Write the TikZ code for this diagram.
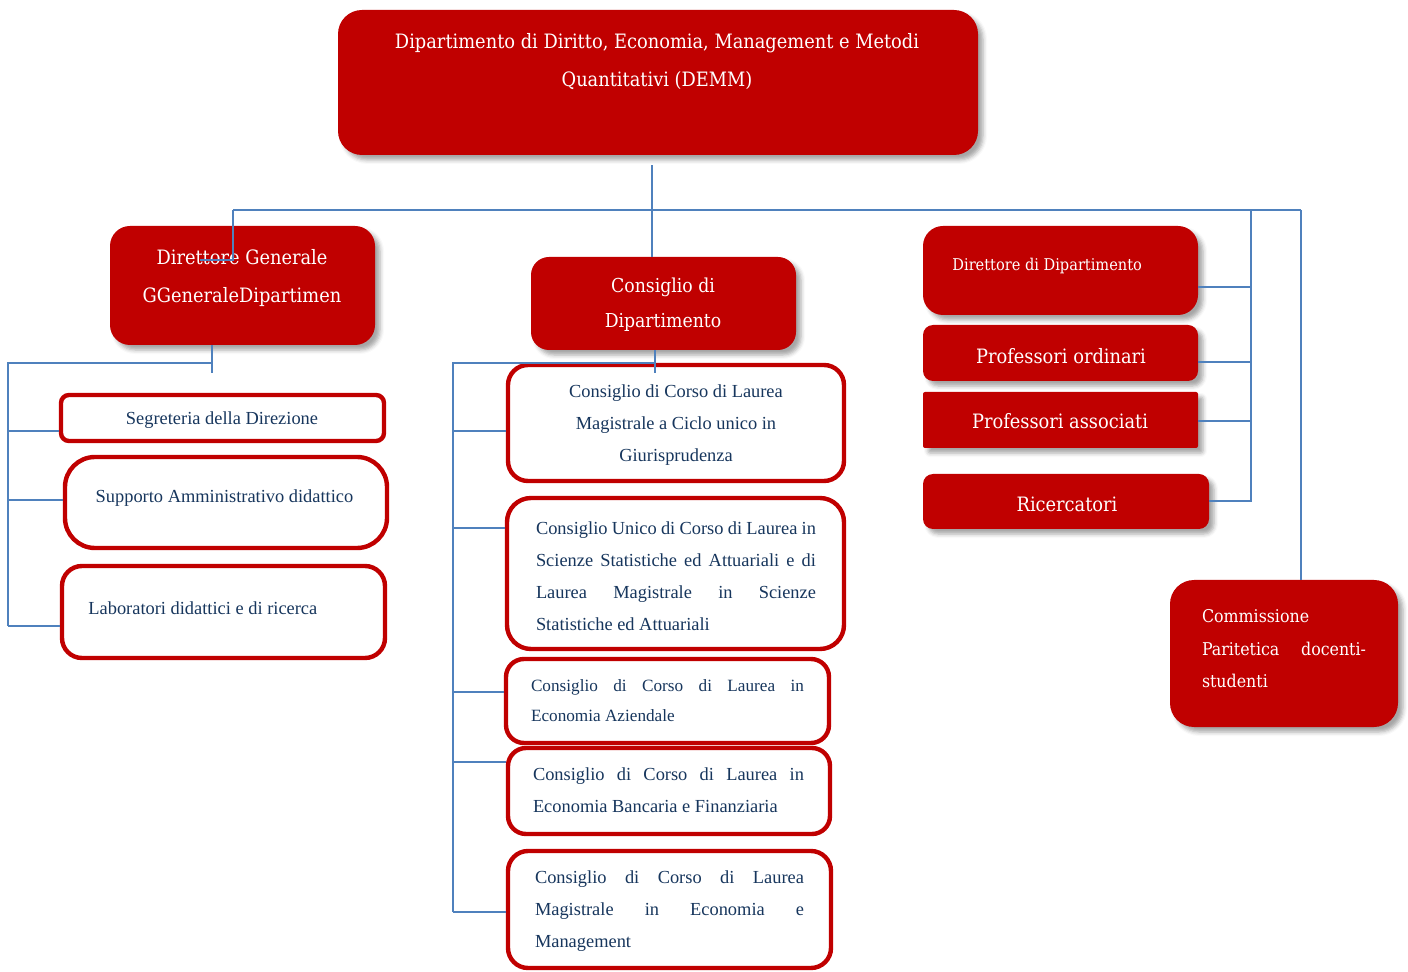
\documentclass[tikz,border=0pt]{standalone}
\usepackage{fontspec}
\setmainfont{Liberation Serif}
\newfontfamily\redfont{DejaVu Serif Condensed}
\usetikzlibrary{shadows.blur,calc}
\definecolor{demmred}{HTML}{C00000}
\definecolor{linkblue}{HTML}{4F81BD}
\definecolor{navy}{HTML}{17365D}
\hyphenpenalty=10000
\tikzset{
  redbox/.style={rectangle,fill=demmred,inner sep=0pt,
    blur shadow={shadow xshift=2.5pt,shadow yshift=-2.5pt,shadow blur radius=2pt,shadow opacity=35}},
  whitebox/.style={rectangle,draw=demmred,line width=2.2pt,fill=white,inner sep=0pt},
  link/.style={draw=linkblue,line width=1pt},
  redtext/.style={text=white,font=\redfont\fontsize{9.9}{19}\selectfont,align=center,inner sep=0pt},
  navytext/.style={text=navy,font=\fontsize{9.2}{16}\selectfont,inner sep=0pt},
}
\begin{document}
\begin{tikzpicture}[x=0.5pt,y=-0.5pt]
    \useasboundingbox (0,0) rectangle (1408,972);
    %riquadri rossi
    \node[redbox,rounded corners=12pt,minimum width=320pt,minimum height=72.5pt](top) at (658,82.5){};
    \node[redbox,rounded corners=10pt,minimum width=132.5pt,minimum height=59.5pt](dg) at (242.5,285.5){};
    \node[redbox,rounded corners=9pt,minimum width=132.5pt,minimum height=46.5pt](cd) at (663.5,303.5){};
    \node[redbox,rounded corners=10pt,minimum width=137.5pt,minimum height=44.5pt](dd) at (1060.5,270.5){};
    \node[redbox,rounded corners=5pt,minimum width=137.5pt,minimum height=28pt](po) at (1060.5,353){};
    \node[redbox,rounded corners=1pt,minimum width=137.5pt,minimum height=28pt](pa) at (1060.5,420){};
    \node[redbox,rounded corners=5pt,minimum width=143pt,minimum height=27.5pt](ric) at (1066,501.5){};
    \node[redbox,rounded corners=12pt,minimum width=114pt,minimum height=73.5pt](cp) at (1284,653.5){};
    %testi bianchi
    \node[redtext](toptxt) at (657,62){Dipartimento di Diritto, Economia, Management e Metodi\\Quantitativi (DEMM)};
    \node[redtext](dgtxt) at (242,278){Direttore Generale\\GGeneraleDipartimen};
    \node[redtext,font=\redfont\fontsize{9.6}{17.5}\selectfont](cdtxt) at (663,305){Consiglio di\\Dipartimento};
    \node[redtext,anchor=west,font=\redfont\fontsize{8.1}{9}\selectfont](ddtxt) at (952,266){Direttore di Dipartimento};
    \node[redtext](potxt) at (1061,356){Professori ordinari};
    \node[redtext](patxt) at (1060,421){Professori associati};
    \node[redtext](rictxt) at (1067,504){Ricercatori};
    \node[redtext,align=justify,text width=82pt,font=\redfont\fontsize{8.8}{16.25}\selectfont](cptxt) at (1284,649){Commissione\newline Paritetica docenti-\linebreak studenti};
    %riquadri bianchi a sinistra
    \node[whitebox,rounded corners=4pt,minimum width=161.5pt,minimum height=23pt](seg) at (222.5,418){};
    \node[whitebox,rounded corners=15pt,minimum width=161pt,minimum height=45.5pt](sup) at (226,502.5){};
    \node[whitebox,rounded corners=10pt,minimum width=161.5pt,minimum height=46pt](lab) at (223.5,612){};
    \node[navytext](segtxt) at (222,420){Segreteria della Direzione};
    \node[navytext](suptxt) at (224.5,498){Supporto Amministrativo didattico};
    \node[navytext,anchor=west](labtxt) at (88,608){Laboratori didattici e di ricerca};
    %riquadri bianchi al centro
    \node[whitebox,rounded corners=10pt,minimum width=168pt,minimum height=58pt](b1) at (676,423){};
    \node[whitebox,rounded corners=12pt,minimum width=168.5pt,minimum height=75.5pt](b2) at (675.5,573.5){};
    \node[whitebox,rounded corners=9pt,minimum width=161.5pt,minimum height=42pt](b3) at (667.5,701){};
    \node[whitebox,rounded corners=9pt,minimum width=161pt,minimum height=43pt](b4) at (669,791){};
    \node[whitebox,rounded corners=10pt,minimum width=161.5pt,minimum height=58.5pt](b5) at (669.5,909.5){};
    \node[navytext,align=center](b1txt) at (676,425){Consiglio di Corso di Laurea\\Magistrale a Ciclo unico in\\Giurisprudenza};
    \node[navytext,align=justify,text width=140pt](b2txt) at (676,576){Consiglio Unico di Corso di Laurea in\linebreak Scienze Statistiche ed Attuariali e di\linebreak Laurea Magistrale in Scienze\linebreak Statistiche ed Attuariali};
    \node[navytext,align=justify,text width=136.5pt,font=\fontsize{8.6}{15}\selectfont](b3txt) at (667.5,700.5){Consiglio di Corso di Laurea in\linebreak Economia Aziendale};
    \node[navytext,align=justify,text width=135.5pt](b4txt) at (668.5,790){Consiglio di Corso di Laurea in\linebreak Economia Bancaria e Finanziaria};
    \node[navytext,align=justify,text width=134.5pt](b5txt) at (669.5,911){Consiglio di Corso di Laurea\linebreak Magistrale in Economia e\linebreak Management};
    %punti dei collegamenti
    \coordinate (hub) at (652,210);
    \coordinate (hubL) at (233,210);
    \coordinate (hubR) at (1301,210);
    \coordinate (busR) at (1251,210);
    \coordinate (dgin) at (200,260);
    \coordinate (dgtail) at (212,373);
    \coordinate (busL) at (8,363);
    \coordinate (cdtail) at (655,373);
    \coordinate (busM) at (453,363);
    \coordinate (ddpin) at ($(dd.east)+(0,16.5)$);
    \coordinate (popin) at ($(po.east)+(0,9)$);
    \coordinate (papin) at ($(pa.east)+(0,1)$);
    \coordinate (segpin) at ($(seg.west)+(0,13)$);
    \coordinate (suppin) at ($(sup.west)+(0,-2.5)$);
    \coordinate (labpin) at ($(lab.west)+(0,14)$);
    \coordinate (b1pin) at ($(b1.west)+(0,8)$);
    \coordinate (b2pin) at ($(b2.west)+(0,-45.5)$);
    \coordinate (b3pin) at ($(b3.west)+(0,-9)$);
    \coordinate (b4pin) at ($(b4.west)+(0,-29)$);
    \coordinate (b5pin) at ($(b5.west)+(0,2.5)$);
    %collegamenti dal dipartimento
    \draw[link]([xshift=-3pt,yshift=-5pt]top.south)--(hub);
    \draw[link](hub)--(hub |- cd.north);
    \draw[link](hubL)--(hubR);
    \draw[link](hubL)|-(dgin);
    \draw[link](hubR)--(hubR |- cp.north);
    %collegamenti a destra
    \draw[link](busR)|-(ric.east);
    \draw[link](ddpin)--(ddpin -| busR);
    \draw[link](popin)--(popin -| busR);
    \draw[link](papin)--(papin -| busR);
    %collegamenti a sinistra
    \draw[link](dgtail |- dg.south)--(dgtail);
    \draw[link](dgtail |- busL)--(busL)--(busL |- labpin);
    \draw[link](busL |- segpin)--(segpin);
    \draw[link](busL |- suppin)--(suppin);
    \draw[link](busL |- labpin)--(labpin);
    %collegamenti al centro
    \draw[link](cdtail |- cd.south)--(cdtail);
    \draw[link](cdtail |- busM)--(busM)--(busM |- b5pin);
    \draw[link](busM |- b1pin)--(b1pin);
    \draw[link](busM |- b2pin)--(b2pin);
    \draw[link](busM |- b3pin)--(b3pin);
    \draw[link](busM |- b4pin)--(b4pin);
    \draw[link](busM |- b5pin)--(b5pin);
\end{tikzpicture}
\end{document}
